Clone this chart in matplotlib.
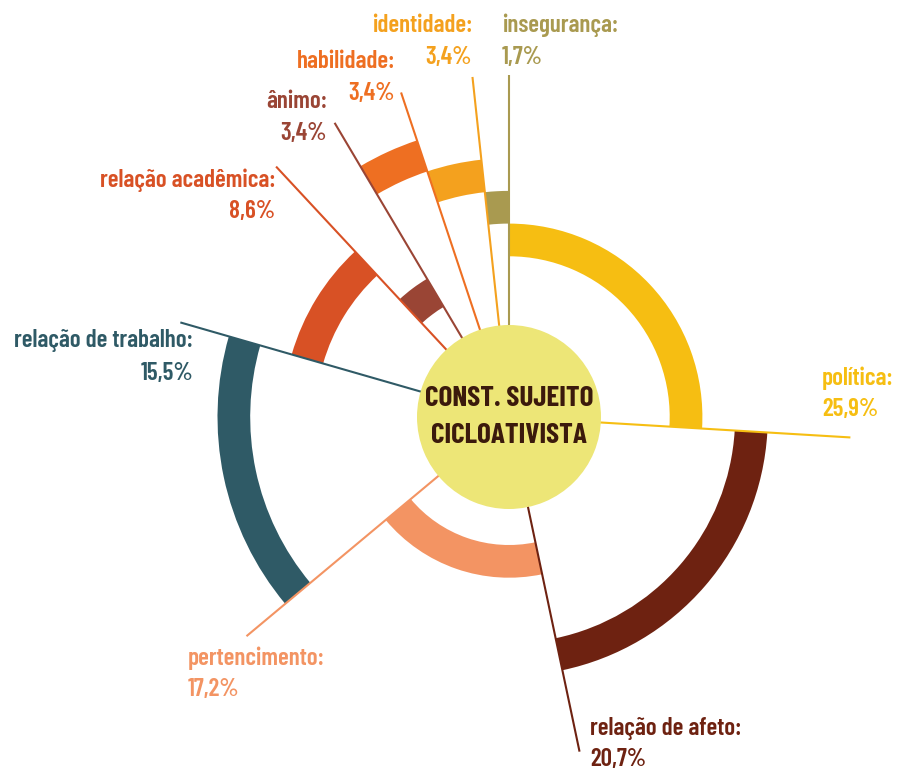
import numpy as np
import matplotlib
matplotlib.use('Agg')
import matplotlib.pyplot as plt
from matplotlib import font_manager

categorias = ['política', 'relação de afeto', 'pertencimento', 'relação de trabalho',
              'relação acadêmica', 'ânimo', 'habilidade', 'identidade', 'insegurança']
percentuais = [25.9, 20.7, 17.2, 15.5, 8.6, 3.4, 3.4, 3.4, 1.7]
centro_txt = 'CONST. SUJEITO\nCICLOATIVISTA'

# estilo
cores = ['#F6BE12', '#6E2211', '#F39463', '#2F5A66', '#D85125',
         '#9A4535', '#EE6F22', '#F4A11E', '#A99A50']
anel = [2, 4, 1, 5, 3, 1, 5, 4, 3]
# posicao dos rotulos em pixels (x, y da 1a linha, alinhamento)
rotulos_pos = [(822, 378, 'left'), (590, 728, 'left'), (188, 658, 'left'),
               (193, 341, 'right'), (275, 180, 'right'), (327, 102, 'right'),
               (395, 62, 'right'), (472, 25, 'right'), (502, 25, 'left')]

# fonte condensada, se houver
nomes = {f.name for f in font_manager.fontManager.ttflist}
fonte, esc = 'DejaVu Sans', 0.68
for nome in ['Barlow Condensed', 'Roboto Condensed', 'Asap Condensed', 'Liberation Sans Narrow']:
    if nome in nomes:
        fonte, esc = nome, 1.0
        break

W, H = 901, 771
cx, cy = 509, 417
R = 520
r_centro = 92
esp = 32.7
r0 = 128
r_linha = 342

fig = plt.figure(figsize=(W / 100, H / 100), dpi=100)
ax = fig.add_axes([(cx - R) / W, (H - cy - R) / H, 2 * R / W, 2 * R / H], projection='polar')
ax.set_theta_zero_location('N')
ax.set_theta_direction(-1)
ax.set_ylim(0, R)
ax.axis('off')

p = np.array(percentuais)
frac = p / p.sum()
larg = frac * 2 * np.pi
inicio = np.concatenate([[0], np.cumsum(larg)[:-1]])
fim = inicio + larg

for i in range(len(categorias)):
    base = r0 + esp * (anel[i] - 1)
    ax.bar(inicio[i], esp, width=larg[i], bottom=base, align='edge',
           color=cores[i], linewidth=0, zorder=2)
    ax.plot([fim[i], fim[i]], [0, r_linha], color=cores[i], lw=1.5,
            solid_capstyle='butt', zorder=3)

ax.bar(0, r_centro, width=2 * np.pi, bottom=0, color='#EDE677', linewidth=0, zorder=4)
ax.text(0, 0, centro_txt, ha='center', va='center', fontsize=21 * esc, fontweight='bold',
        color='#3B1A0C', family=fonte, linespacing=1.6, zorder=5)

for i, cat in enumerate(categorias):
    x, y, ha = rotulos_pos[i]
    pct = f'{percentuais[i]:.1f}'.replace('.', ',') + '%'
    fig.text(x / W, 1 - y / H, cat + ':', ha=ha, va='center', fontsize=18 * esc,
             fontweight='semibold', color=cores[i], family=fonte)
    fig.text(x / W, 1 - (y + 32) / H, pct, ha=ha, va='center', fontsize=18 * esc,
             fontweight='semibold', color=cores[i], family=fonte)

fig.savefig('out.png', dpi=100)
